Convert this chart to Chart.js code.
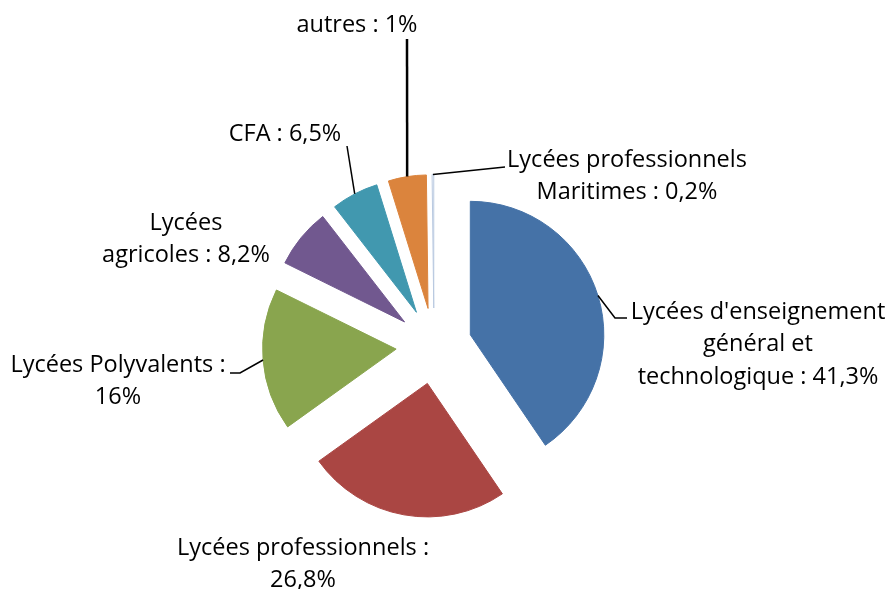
<!DOCTYPE html>
<html lang="fr">
<head>
<meta charset="UTF-8">
<title>Répartition des lycées</title>
<script src="https://cdn.jsdelivr.net/npm/chart.js"></script>
<style>
  body { margin: 0; background: #fff; }
  #wrap { width: 888px; height: 589px; position: relative; }
</style>
</head>
<body>
<div id="wrap"><canvas id="pieChart"></canvas></div>
<script>
// données
const categories = [
    "Lycées d'enseignement général et technologique",
    "Lycées professionnels",
    "Lycées Polyvalents",
    "Lycées agricoles",
    "CFA",
    "autres",
    "Lycées professionnels Maritimes"
];
const sliceShares = [40.5, 24.6, 17.2, 7.2, 5.7, 4.6, 0.2];
const labelLines = [
    ["Lycées d'enseignement", "général et", "technologique : 41,3%"],
    ["Lycées professionnels :", "26,8%"],
    ["Lycées Polyvalents :", "16%"],
    ["Lycées", "agricoles : 8,2%"],
    ["CFA : 6,5%"],
    ["autres : 1%"],
    ["Lycées professionnels", "Maritimes : 0,2%"]
];

const colors = ['#4572A7', '#AA4643', '#89A54E', '#71588F', '#4198AF', '#DB843D', '#FFFFFF'];
const borders = ['#4572A7', '#AA4643', '#89A54E', '#71588F', '#4198AF', '#DB843D', '#B9C9E0'];

// position des étiquettes (centre x, milieu de la 1re ligne y) et lignes de rappel
const labelPos = [
    { x: 758, y: 312, leader: [[615, 318], [627, 318]] },
    { x: 303, y: 548, leader: null },
    { x: 118, y: 365, leader: [[240, 373], [230, 373]] },
    { x: 186, y: 223, leader: null },
    { x: 285, y: 134, leader: [[347, 146]] },
    { x: 357, y: 25, leader: [[407, 39]], width: 2.5 },
    { x: 627, y: 160, leader: [[505, 167]] }
];
const explode = 38;
const lineHeight = 32.5;

// écarte chaque part du centre le long de sa bissectrice
const explodePlugin = {
    id: 'explode',
    beforeDatasetsDraw(chart) {
        const a = chart.chartArea;
        const cx = (a.left + a.right) / 2;
        const cy = (a.top + a.bottom) / 2;
        chart.getDatasetMeta(0).data.forEach(el => {
            const mid = (el.startAngle + el.endAngle) / 2;
            el.x = cx + Math.cos(mid) * explode;
            el.y = cy + Math.sin(mid) * explode;
        });
    }
};

const labelPlugin = {
    id: 'sliceLabels',
    afterDatasetsDraw(chart) {
        const ctx = chart.ctx;
        ctx.save();
        ctx.fillStyle = '#000';
        ctx.strokeStyle = '#000';
        ctx.font = '23.5px "Open Sans"';
        ctx.textAlign = 'center';
        ctx.textBaseline = 'middle';
        chart.getDatasetMeta(0).data.forEach((el, i) => {
            const p = labelPos[i];
            if (p.leader) {
                const mid = (el.startAngle + el.endAngle) / 2;
                const r = el.outerRadius;
                ctx.lineWidth = p.width || 1.5;
                ctx.beginPath();
                ctx.moveTo(el.x + Math.cos(mid) * r, el.y + Math.sin(mid) * r);
                p.leader.forEach(pt => ctx.lineTo(pt[0], pt[1]));
                ctx.stroke();
            }
            labelLines[i].forEach((t, j) => ctx.fillText(t, p.x, p.y + j * lineHeight));
        });
        ctx.restore();
    }
};

new Chart(document.getElementById('pieChart'), {
    type: 'pie',
    data: {
        labels: categories,
        datasets: [{
            data: sliceShares,
            backgroundColor: colors,
            borderColor: borders,
            borderWidth: 1
        }]
    },
    options: {
        responsive: true,
        maintainAspectRatio: false,
        animation: false,
        layout: { padding: { left: 300, right: 320, top: 212, bottom: 109 } },
        plugins: {
            legend: { display: false },
            tooltip: { enabled: false }
        }
    },
    plugins: [explodePlugin, labelPlugin]
});
</script>
</body>
</html>
